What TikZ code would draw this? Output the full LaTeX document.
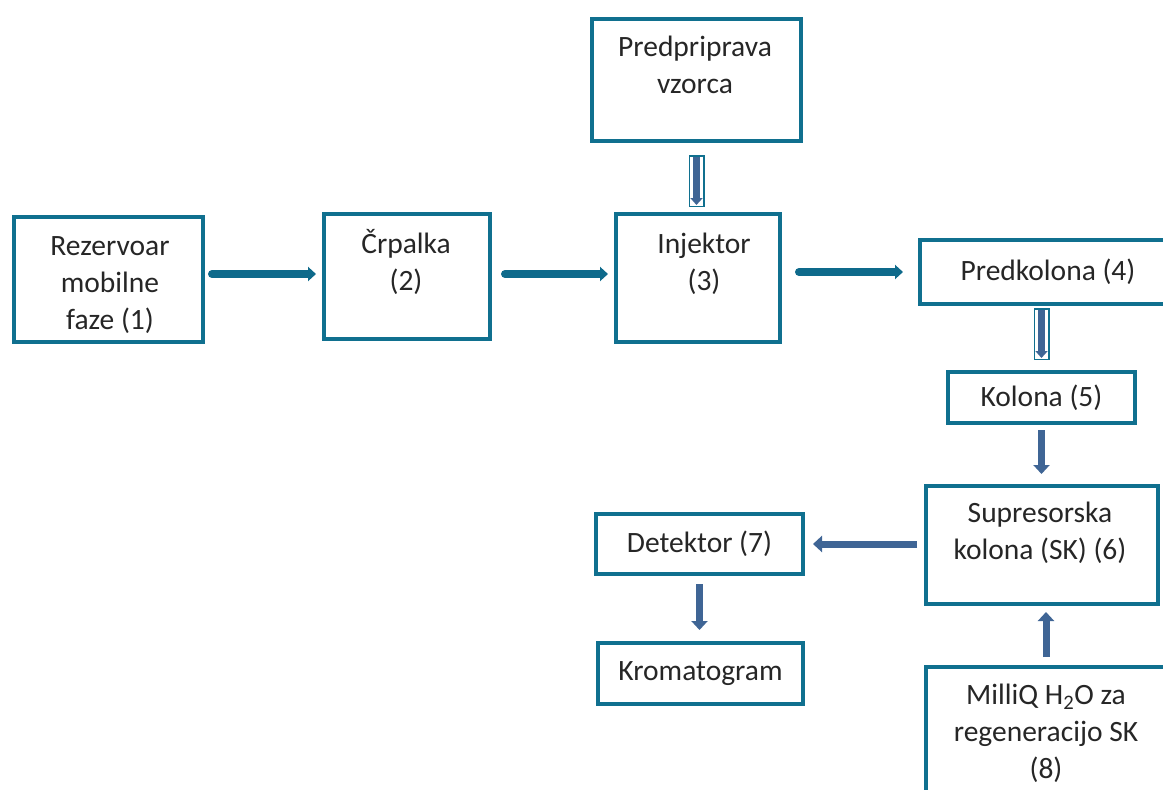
\documentclass[tikz,border=0pt]{standalone}
\usepackage{fontspec}
\setmainfont{Carlito}
\definecolor{boxteal}{HTML}{10708F}
\definecolor{arrteal}{HTML}{0E6A8B}
\definecolor{arrblue}{HTML}{3F6595}
\definecolor{textgray}{HTML}{262626}
\usepackage{tikz}
\usetikzlibrary{arrows.meta,positioning,calc}

\tikzset{
  box/.style={draw=boxteal,line width=4pt,inner sep=0pt},
  txt/.style={font=\fontsize{29.5}{37}\selectfont,text=textgray,align=center},
  tealarr/.style={draw=arrteal,line width=8pt,line cap=round,-{Triangle[length=8pt,width=14pt]}},
  bluearr/.style={draw=arrblue,line width=7pt,-{Triangle[length=9pt,width=16pt]}},
  hollowarr/.style={draw=boxteal,line width=16pt,
    postaction={draw=white,line width=13pt,shorten <=1.5pt,shorten >=1.5pt},
    postaction={draw=arrblue,line width=7pt,shorten <=2pt,shorten >=2pt,-{Triangle[length=7pt,width=12pt]}}}
}

\begin{document}
\begin{tikzpicture}[x=1pt,y=-1pt]
  \useasboundingbox (0,0) rectangle (1163,790);
  \clip (0,0) rectangle (1163,790);

  % boxes
  \node[box,minimum width=189pt,minimum height=125pt] (rez) at (108.5,279.5) {};
  \node[txt] (reztxt) at (110,285) {Rezervoar\\mobilne\\faze (1)};
  \node[box,minimum width=166pt,minimum height=125pt] (crp) at (407,276.5) {};
  \node[txt] (crptxt) at (406,262) {Črpalka\\(2)};
  \node[box,minimum width=164pt,minimum height=128pt] (inj) at (698,278) {};
  \node[txt] (injtxt) at (704,264) {Injektor\\(3)};
  \node[box,minimum width=209pt,minimum height=122pt] (prep) at (696.5,80) {};
  \node[txt] (preptxt) at (695,65) {Predpriprava\\vzorca};
  \node[box,txt,minimum width=256pt,minimum height=64pt] (predk) at (1048,272) {Predkolona (4)};
  \node[box,txt,minimum width=187pt,minimum height=51pt] (kol) at (1041.5,397.5) {Kolona (5)};
  \node[box,minimum width=232pt,minimum height=118pt] (sup) at (1042,545) {};
  \node[txt] (suptxt) at (1040,532.5) {Supresorska\\kolona (SK) (6)};
  \node[box,txt,minimum width=207pt,minimum height=60pt] (det) at (699.5,544) {Detektor (7)};
  \node[box,txt,minimum width=205pt,minimum height=61pt] (krom) at (700.5,673.5) {Kromatogram};
  \node[box,minimum width=240pt,minimum height=161pt] (milq) at (1046,747.5) {};
  \node[txt] (milqtxt) at (1046,733.5) {MilliQ H\textsubscript{2}O za\\regeneracijo SK\\(8)};

  % arrows
  \draw[tealarr,shorten <=7pt,shorten >=6pt] ([yshift=5.5pt]rez.east) -- ([yshift=5.5pt]rez.east -| crp.west);
  \draw[tealarr,shorten <=13pt,shorten >=6pt] ([yshift=2.5pt]crp.east) -- ([yshift=2.5pt]crp.east -| inj.west);
  \draw[tealarr,shorten <=17pt,shorten >=15pt] (predk.west -| inj.east) -- (predk.west);
  \draw[hollowarr] ([yshift=-12pt]prep.south) -- ([yshift=5pt]prep.south |- inj.north);
  \draw[hollowarr] ([yshift=-2pt]kol.north |- predk.south) -- ([yshift=10pt]kol.north);
  \draw[bluearr,shorten <=5pt,shorten >=10pt] (kol.south) -- (kol.south |- sup.north);
  \draw[bluearr,shorten <=7pt,shorten >=8pt] (det.east -| sup.west) -- (det.east);
  \draw[bluearr,shorten <=8pt,shorten >=11pt] (det.south) -- (det.south |- krom.north);
  \draw[bluearr,shorten <=8pt,shorten >=6pt] (milq.north) -- (milq.north |- sup.south);
\end{tikzpicture}
\end{document}
